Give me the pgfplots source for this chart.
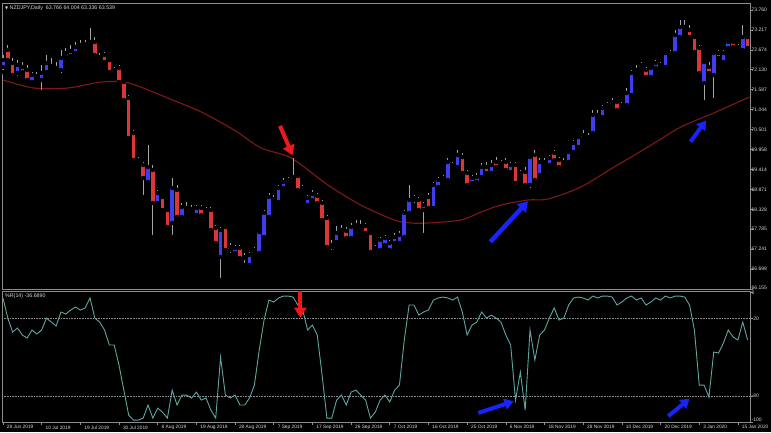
\documentclass[border=0pt]{standalone}
\usepackage{pgfplots}
\pgfplotsset{compat=1.18}
\usepackage{pgfplotstable}
\usepackage{fontspec}
\setmainfont{Liberation Sans}
\newfontfamily\symfont{DejaVu Sans}
\usetikzlibrary{arrows.meta}
\definecolor{bull}{RGB}{62,62,240}
\definecolor{bear}{RGB}{220,55,55}
\definecolor{wickc}{RGB}{165,165,165}
\definecolor{maline}{RGB}{128,24,24}
\definecolor{wprc}{RGB}{95,165,160}
\definecolor{framec}{RGB}{140,140,140}
\definecolor{labc}{RGB}{215,215,215}
\definecolor{arred}{RGB}{240,25,25}
\definecolor{arblue}{RGB}{25,35,250}
\pgfplotsset{
  mtaxis/.style={
    scale only axis, width=748bp,
    xmin=-0.2, xmax=154.5,
    axis line style={framec, line width=0.8bp},
    tick style={framec, line width=0.6bp},
    tick align=outside, major tick length=3bp,
    ytick pos=right, yticklabel pos=right,
    yticklabel style={anchor=west, xshift=-2bp, inner sep=0.5bp, font=\fontsize{5bp}{6bp}\selectfont, text=labc},
  },
  candlebody/.style={only marks, mark=none, forget plot,
    error bars/.cd, y dir=plus, y explicit, error mark=none,
    error bar style={draw=#1, line width=3.6bp, line cap=butt}},
}
\pgfplotstableread{
i o h l c u
0 72.206 72.533 72.070 72.397 1
1 72.670 72.806 72.315 72.397 0
2 72.315 72.452 71.906 71.988 0
3 72.043 72.397 71.906 72.261 1
4 72.206 72.343 71.961 72.070 0
5 72.125 72.261 71.770 71.852 0
6 71.797 72.070 71.716 71.988 1
7 71.961 72.070 71.797 71.906 0
8 71.852 72.261 71.525 72.043 1
9 72.070 72.533 71.988 72.315 1
10 72.179 72.452 72.070 72.234 1
11 72.179 72.343 72.070 72.152 0
12 72.125 72.670 71.988 72.452 1
13 72.479 72.724 72.397 72.588 1
14 72.506 72.806 72.397 72.642 1
15 72.588 72.888 72.506 72.752 1
16 72.806 72.942 72.670 72.752 0
17 72.806 72.942 72.724 72.833 1
18 72.806 73.269 72.752 72.888 1
19 72.888 73.024 72.479 72.533 0
20 72.479 72.588 72.343 72.452 0
21 72.533 72.615 72.261 72.343 0
22 72.397 72.452 71.988 72.070 0
23 72.043 72.206 71.961 72.125 1
24 72.179 72.261 71.716 71.797 0
25 71.797 71.852 71.252 71.307 0
26 71.361 71.443 70.216 70.271 0
27 70.407 70.489 69.617 69.671 0
28 69.671 69.753 69.535 69.617 0
29 69.535 69.617 68.663 69.181 0
30 69.072 70.080 68.990 69.480 1
31 69.399 69.535 67.572 68.499 0
32 68.499 68.854 68.445 68.772 1
33 68.663 68.717 68.254 68.308 0
34 68.308 68.363 67.763 67.845 0
35 67.954 69.181 67.572 68.908 1
36 68.854 68.990 68.036 68.118 0
37 68.118 68.499 68.036 68.390 1
38 68.363 68.526 68.227 68.308 0
39 68.308 68.445 68.254 68.336 1
40 68.172 68.445 68.090 68.363 1
41 68.363 68.445 68.118 68.172 0
42 68.254 68.390 68.172 68.308 1
43 68.308 68.390 67.709 67.763 0
44 67.818 67.900 67.300 67.409 0
45 67.027 67.845 66.400 67.763 1
46 67.845 67.900 67.136 67.218 0
47 67.300 67.409 67.082 67.218 0
48 67.136 67.354 67.027 67.273 1
49 67.273 67.354 66.891 67.000 0
50 67.027 67.136 66.809 67.000 0
51 66.809 67.164 66.727 67.082 1
52 67.136 67.300 67.027 67.218 1
53 67.136 67.763 67.082 67.709 1
54 67.572 68.308 67.491 68.227 1
55 68.118 68.772 68.036 68.663 1
56 68.608 68.717 68.499 68.581 0
57 68.526 68.990 68.445 68.908 1
58 68.908 69.181 68.854 69.072 1
59 69.044 69.208 68.990 69.126 1
60 69.126 69.726 69.044 69.208 1
61 69.235 69.262 68.772 68.854 0
62 68.908 68.990 68.772 68.854 0
63 68.445 68.717 68.390 68.636 1
64 68.581 68.854 68.499 68.745 1
65 68.690 68.772 68.445 68.499 0
66 68.499 68.581 67.954 68.036 0
67 68.090 68.172 67.218 67.300 0
68 67.300 67.491 67.164 67.354 1
69 67.436 67.872 67.354 67.682 1
70 67.709 67.900 67.627 67.763 1
71 67.736 67.845 67.491 67.545 0
72 67.545 67.954 67.436 67.845 1
73 67.900 68.036 67.763 67.845 0
74 67.845 68.036 67.736 67.872 1
75 67.872 67.954 67.627 67.682 0
76 67.682 67.736 67.082 67.164 0
77 67.273 67.354 67.136 67.218 0
78 67.218 67.572 67.136 67.491 1
79 67.354 67.627 67.300 67.545 1
80 67.218 67.491 67.136 67.409 1
81 67.409 67.682 67.354 67.572 1
82 67.409 67.736 67.354 67.627 1
83 67.572 68.308 67.491 68.227 1
84 68.227 68.990 68.172 68.581 1
85 68.636 68.717 68.445 68.581 0
86 68.581 68.663 68.227 68.308 0
87 68.308 68.526 67.627 68.445 1
88 68.663 68.772 68.254 68.363 0
89 68.363 69.072 68.308 68.990 1
90 68.935 69.208 68.854 69.126 1
91 69.126 69.262 69.044 69.181 1
92 69.126 69.726 69.044 69.617 1
93 69.535 69.617 69.399 69.480 0
94 69.480 69.944 69.399 69.808 1
95 69.753 69.862 69.262 69.317 0
96 69.317 69.399 68.908 68.990 0
97 69.044 69.262 68.990 69.181 1
98 69.072 69.317 68.990 69.208 1
99 69.208 69.590 69.126 69.480 1
100 69.480 69.617 69.235 69.317 0
101 69.317 69.671 69.262 69.535 1
102 69.617 69.753 69.399 69.480 0
103 69.535 69.671 69.453 69.590 1
104 69.617 69.726 69.317 69.399 0
105 69.344 69.617 69.262 69.535 1
106 69.535 69.617 68.990 69.044 0
107 69.208 69.399 69.126 69.317 1
108 69.344 69.480 68.908 68.990 0
109 68.990 69.808 68.854 69.753 1
110 69.808 69.944 69.044 69.126 0
111 69.262 69.726 69.181 69.617 1
112 69.535 69.726 69.480 69.617 1
113 69.535 69.808 69.453 69.726 1
114 69.862 69.944 69.617 69.671 0
115 69.671 69.753 69.399 69.480 0
116 69.590 69.726 69.535 69.617 1
117 69.617 69.944 69.535 69.889 1
118 69.889 70.216 69.808 70.135 1
119 70.026 70.353 69.944 70.298 1
120 70.353 70.489 70.216 70.271 0
121 70.271 70.407 70.216 70.298 1
122 70.407 71.034 70.353 70.898 1
123 70.898 71.034 70.762 70.843 0
124 70.843 71.170 70.762 71.089 1
125 71.089 71.252 71.034 71.170 1
126 71.170 71.361 71.089 71.252 1
127 71.252 71.307 70.980 71.034 0
128 71.089 71.252 71.034 71.170 1
129 71.170 71.634 71.089 71.498 1
130 71.443 72.125 71.361 72.043 1
131 72.125 72.261 71.961 72.043 0
132 72.179 72.343 72.125 72.261 1
133 72.125 72.206 71.852 71.934 0
134 71.934 72.234 71.852 72.179 1
135 72.179 72.397 72.125 72.315 1
136 72.261 72.343 72.152 72.234 0
137 72.206 72.642 72.152 72.588 1
138 72.588 72.670 72.479 72.533 0
139 72.588 73.215 72.533 73.079 1
140 73.024 73.487 72.942 73.297 1
141 73.297 73.487 73.215 73.269 0
142 73.215 73.351 72.942 73.024 0
143 73.024 73.079 72.533 72.615 0
144 72.724 72.806 71.961 72.043 0
145 71.770 72.397 71.252 72.343 1
146 72.206 72.343 71.961 72.043 0
147 71.988 72.642 71.307 72.588 1
148 72.588 72.670 72.397 72.452 0
149 72.343 72.670 72.261 72.588 1
150 72.724 72.942 72.670 72.888 1
151 72.888 72.942 72.670 72.752 0
152 72.670 72.833 72.615 72.752 1
153 72.670 73.351 72.615 73.024 1
154 73.024 73.079 72.670 72.724 0
}\candles
\pgfplotstableread{
i v
0 71.852
6.4 71.634
13.4 71.634
20.3 71.797
25 71.797
28.5 71.661
34.1 71.361
41 70.980
47.8 70.489
53.4 69.998
59.6 69.726
67.2 68.990
74 68.445
80.9 68.036
84.4 67.954
87.9 67.954
94.7 68.036
98.9 68.254
103 68.445
108.6 68.581
112.7 68.608
119.5 68.935
126.4 69.480
133.4 70.026
140.2 70.571
147 70.952
154.4 71.390
}\maline
\pgfplotstableread{
i r
0 -4.3
1 -19.8
2 -30.6
3 -27.5
4 -32.9
5 -35.2
6 -29.0
7 -32.1
8 -29.0
9 -19.8
10 -22.9
11 -25.9
12 -15.1
13 -16.7
14 -13.6
15 -11.3
16 -13.6
17 -12.0
18 -4.3
19 -19.8
20 -22.9
21 -29.0
22 -40.6
23 -40.6
24 -56.1
25 -75.4
26 -94.7
27 -98.5
28 -98.5
29 -97.0
30 -86.9
31 -97.0
32 -89.3
33 -92.4
34 -97.0
35 -75.4
36 -86.9
37 -79.2
38 -79.2
39 -81.5
40 -76.9
41 -83.1
42 -81.5
43 -90.8
44 -97.0
45 -50.0
46 -79.2
47 -81.5
48 -79.2
49 -86.9
50 -86.9
51 -81.5
52 -71.5
53 -44.5
54 -21.3
55 -5.9
56 -7.4
57 -4.3
58 -2.8
59 -2.8
60 -3.6
61 -9.7
62 -13.6
63 -29.0
64 -25.2
65 -32.9
66 -63.8
67 -97.0
68 -97.0
69 -83.1
70 -79.2
71 -86.9
72 -76.9
73 -75.4
74 -79.2
75 -83.1
76 -97.0
77 -92.4
78 -83.1
79 -79.2
80 -84.6
81 -75.4
82 -71.5
83 -36.7
84 -9.7
85 -9.7
86 -17.5
87 -15.1
88 -13.6
89 -5.9
90 -4.3
91 -3.6
92 -4.3
93 -5.9
94 -3.6
95 -15.1
96 -32.9
97 -25.2
98 -22.9
99 -15.1
100 -19.8
101 -17.5
102 -19.8
103 -22.9
104 -32.9
105 -40.6
106 -83.1
107 -61.5
108 -90.8
109 -29.0
110 -52.2
111 -32.9
112 -29.0
113 -19.8
114 -12.0
115 -21.3
116 -19.8
117 -9.7
118 -4.3
119 -3.6
120 -4.3
121 -5.9
122 -2.8
123 -4.3
124 -2.8
125 -2.8
126 -3.6
127 -9.7
128 -7.4
129 -4.3
130 -2.8
131 -5.9
132 -4.3
133 -9.7
134 -7.4
135 -4.3
136 -5.9
137 -2.8
138 -4.3
139 -2.8
140 -2.8
141 -3.6
142 -9.7
143 -29.0
144 -71.5
145 -71.5
146 -80.8
147 -46.0
148 -46.8
149 -39.1
150 -29.0
151 -34.4
152 -36.7
153 -22.9
154 -36.7
}\wpr
\begin{document}
\begin{tikzpicture}[x=1bp,y=1bp]
\fill[black] (0,0) rectangle (771,432);
% price panel
\begin{axis}[mtaxis, at={(2bp,143bp)}, anchor=south west, height=286bp,
  ymin=66.155, ymax=73.951, xtick=\empty,
  ytick={73.760,73.2168,72.6736,72.1304,71.5871,71.0439,70.5007,69.9575,69.4143,68.8711,68.3279,67.7846,67.2414,66.6982,66.155},
  yticklabels={73.760,73.217,72.674,72.130,71.587,71.044,70.501,69.958,69.414,68.871,68.328,67.785,67.241,66.698,\raisebox{1.5bp}{66.155}}]
\addplot[maline, line width=1.1bp, smooth, forget plot] table[x=i, y=v] {\maline};
\addplot[only marks, mark=none, forget plot,
  error bars/.cd, y dir=plus, y explicit, error mark=none,
  error bar style={draw=wickc, line width=0.8bp}]
  table[x=i, y=l, y error expr=\thisrow{h}-\thisrow{l}] {\candles};
\addplot[candlebody=bull]
  table[x=i, y=o, y error expr={\thisrow{u}*(\thisrow{c}-\thisrow{o}+0.012)}] {\candles};
\addplot[candlebody=bear]
  table[x=i, y=c, y error expr={(1-\thisrow{u})*(\thisrow{o}-\thisrow{c}+0.012)}] {\candles};
\draw[arred, line width=4bp, -{Triangle[width=12bp,length=10bp]}] (axis cs:57.3,70.60) -- (axis cs:59.9,69.80);
\draw[arblue, line width=4.5bp, -{Triangle[width=12bp,length=10bp]}] (axis cs:100.8,67.44) -- (axis cs:108.6,68.55);
\draw[arblue, line width=4bp, -{Triangle[width=11bp,length=9bp]}] (axis cs:142.2,70.17) -- (axis cs:145.4,70.75);
\end{axis}
% Williams %R panel
\begin{axis}[mtaxis, at={(2bp,10bp)}, anchor=south west, height=131bp,
  ymin=-100, ymax=1.1,
  ytick={-100,-80,-20,0}, yticklabels={\raisebox{4.5bp}{-100},-80,-20,\raisebox{-4bp}{0}},
  xtick={0,8,...,152}, xtick pos=bottom,
  xticklabels={28 Jun 2019,10 Jul 2019,19 Jul 2019,30 Jul 2019,8 Aug 2019,19 Aug 2019,28 Aug 2019,7 Sep 2019,17 Sep 2019,26 Sep 2019,7 Oct 2019,16 Oct 2019,25 Oct 2019,6 Nov 2019,18 Nov 2019,28 Nov 2019,10 Dec 2019,20 Dec 2019,3 Jan 2020,15 Jan 2020},
  xticklabel style={anchor=north west, xshift=0.5bp, yshift=3bp, font=\fontsize{4.8bp}{5.5bp}\selectfont, text=labc}]
\draw[framec, densely dotted, line width=0.6bp] (axis cs:-0.2,-20) -- (axis cs:154.5,-20);
\draw[framec, densely dotted, line width=0.6bp] (axis cs:-0.2,-80) -- (axis cs:154.5,-80);
\addplot[wprc, line width=0.9bp, forget plot] table[x=i, y=r] {\wpr};
\draw[arred, line width=4bp, -{Triangle[width=12bp,length=10bp]}] (axis cs:61.5,1.1) -- (axis cs:61.5,-19.5);
\draw[arblue, line width=4bp, -{Triangle[width=11bp,length=9bp]}] (axis cs:98.3,-93) -- (axis cs:105.6,-84);
\draw[arblue, line width=4bp, -{Triangle[width=11bp,length=9bp]}] (axis cs:137.6,-95.5) -- (axis cs:142.0,-82);
\end{axis}
\node[anchor=west, text=labc, font=\fontsize{5.3bp}{6bp}\selectfont, inner sep=0pt] at (5,424) {{\symfont\fontsize{4bp}{5bp}\selectfont ▼}\ NZDJPY,Daily\ \ 63.766 64.004 63.336 63.539};
\node[anchor=west, text=labc, font=\fontsize{5.3bp}{6bp}\selectfont, inner sep=0pt] at (5,135.5) {\%R(14) -36.6890};
\pgfresetboundingbox
\path[use as bounding box] (0,0) rectangle (771,432);
\end{tikzpicture}
\end{document}
